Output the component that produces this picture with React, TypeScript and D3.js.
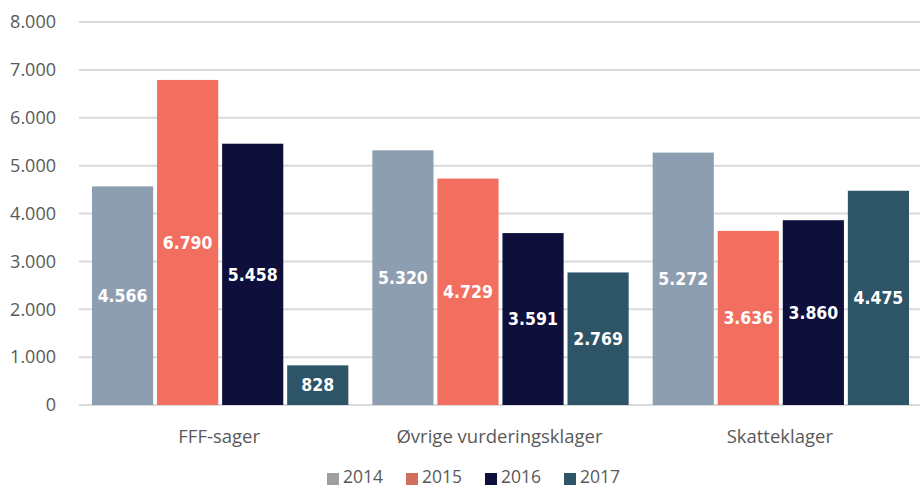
import React, { useEffect, useRef } from 'react';
import * as d3 from 'd3';

const categories = ['FFF-sager', 'Øvrige vurderingsklager', 'Skatteklager'];
const years = ['2014', '2015', '2016', '2017'];
const values2014 = [4566, 5320, 5272];
const values2015 = [6790, 4729, 3636];
const values2016 = [5458, 3591, 3860];
const values2017 = [828, 2769, 4475];
const yTicks = [0, 1000, 2000, 3000, 4000, 5000, 6000, 7000, 8000];

const barColors = ['#8d9eb0', '#f26e5f', '#0f0f3c', '#2e5468'];
const legendColors = ['#a0a0a0', '#d0705a', '#0f0f3c', '#2e5468'];

const width = 920;
const height = 488;
const margin = { top: 22, right: 0, bottom: 83, left: 79 };

const fmt = (v: number) => d3.format(',')(v).replace(/,/g, '.');

const App = () => {
  const ref = useRef<SVGSVGElement>(null);

  useEffect(() => {
    const svg = d3.select(ref.current);
    svg.selectAll('*').remove();

    const series = [values2014, values2015, values2016, values2017];

    const x0 = d3.scaleBand().domain(categories).range([margin.left, width - margin.right]);
    const x1 = d3.scaleBand().domain(years).range([13, x0.bandwidth() - 11]).paddingInner(0.06);
    const y = d3.scaleLinear().domain([0, 8000]).range([height - margin.bottom, margin.top]);

    // gridlines
    svg.append('g')
      .selectAll('line')
      .data(yTicks)
      .join('line')
      .attr('x1', margin.left)
      .attr('x2', width - margin.right)
      .attr('y1', d => y(d))
      .attr('y2', d => y(d))
      .attr('stroke', '#d9d9d9')
      .attr('stroke-width', 2);

    // y labels
    svg.append('g')
      .selectAll('text')
      .data(yTicks)
      .join('text')
      .attr('x', 56)
      .attr('y', d => y(d))
      .attr('dy', '0.35em')
      .attr('text-anchor', 'end')
      .attr('fill', '#595959')
      .style('font-family', 'Open Sans, sans-serif')
      .style('font-size', '18px')
      .text(d => fmt(d));

    // bars
    const groups = svg.append('g')
      .selectAll('g')
      .data(categories)
      .join('g')
      .attr('transform', d => `translate(${x0(d)},0)`);

    groups.each(function (cat, ci) {
      const g = d3.select(this);
      const rows = years.map((yr, si) => ({ yr, si, v: series[si][ci] }));
      g.selectAll('rect')
        .data(rows)
        .join('rect')
        .attr('x', d => x1(d.yr)!)
        .attr('width', x1.bandwidth())
        .attr('y', d => y(d.v))
        .attr('height', d => y(0) - y(d.v))
        .attr('fill', d => barColors[d.si]);
      g.selectAll('text')
        .data(rows)
        .join('text')
        .attr('x', d => x1(d.yr)! + x1.bandwidth() / 2)
        .attr('y', d => (y(d.v) + y(0)) / 2)
        .attr('dy', '0.36em')
        .attr('text-anchor', 'middle')
        .attr('fill', '#ffffff')
        .style('font-family', 'DejaVu Sans Condensed, DejaVu Sans, sans-serif')
        .style('font-weight', 'bold')
        .style('font-size', '17.5px')
        .text(d => fmt(d.v));
    });

    // category labels
    svg.append('g')
      .selectAll('text')
      .data(categories)
      .join('text')
      .attr('x', d => x0(d)! + x0.bandwidth() / 2)
      .attr('y', 437)
      .attr('dy', '0.35em')
      .attr('text-anchor', 'middle')
      .attr('fill', '#595959')
      .style('font-family', 'Open Sans, sans-serif')
      .style('font-size', '18.5px')
      .text(d => d);

    // legend
    const legend = svg.append('g')
      .selectAll('g')
      .data(years)
      .join('g')
      .attr('transform', (d, i) => `translate(${327 + i * 79},477)`);
    legend.append('rect')
      .attr('x', 0)
      .attr('y', -4)
      .attr('width', 12)
      .attr('height', 12)
      .attr('fill', (d, i) => legendColors[i]);
    legend.append('text')
      .attr('x', 16)
      .attr('y', 0)
      .attr('dy', '0.35em')
      .attr('fill', '#595959')
      .style('font-family', 'Open Sans, sans-serif')
      .style('font-size', '17.5px')
      .text(d => d);
  }, []);

  return (
    <svg ref={ref} width={width} height={height} style={{ position: 'absolute', left: 0, top: 0 }}></svg>
  );
};

export default App;
